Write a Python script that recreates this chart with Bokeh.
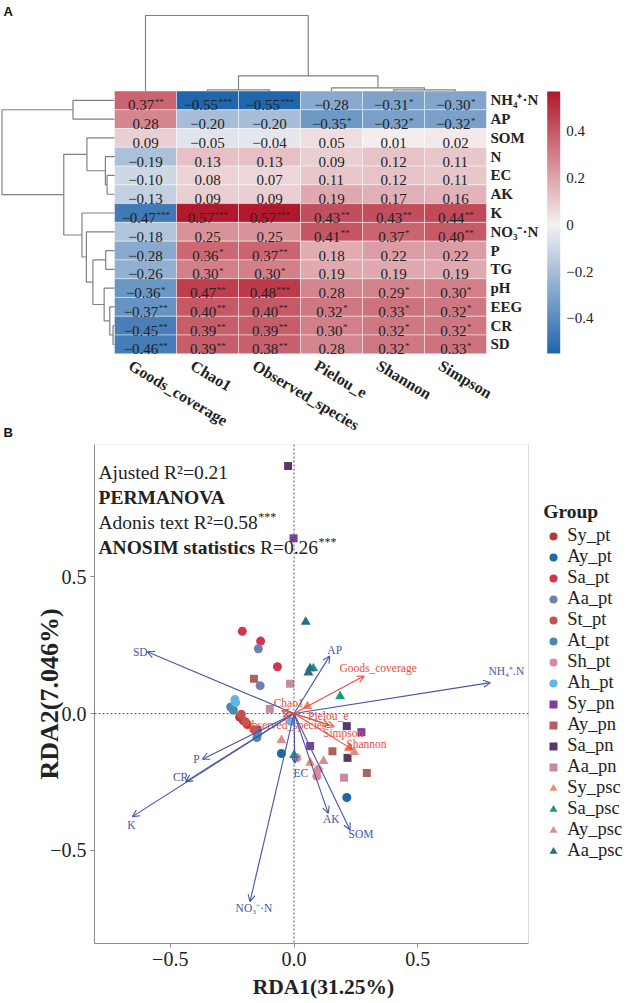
import math
from bokeh.plotting import figure
from bokeh.models import (Range1d, ColumnDataSource, ColorBar, LinearColorMapper, Legend, LegendItem,
                          FixedTicker, Span, Arrow, OpenHead, CustomJSTickFormatter, BoxAnnotation, Title)
from bokeh.embed import file_html
from bokeh.resources import INLINE
from bokeh.core.properties import value

SERIF = "Liberation Serif"
SANS = "Liberation Sans"

# ---------------- data: panel A (correlation heatmap) ----------------
alpha_cols = ["Goods_coverage", "Chao1", "Observed_species", "Pielou_e", "Shannon", "Simpson"]
env_rows = ["NH₄⁺·N", "AP", "SOM", "N", "EC", "AK", "K", "NO₃⁻·N", "P", "TG", "pH", "EEG", "CR", "SD"]

goods_coverage = [0.37, 0.28, 0.09, -0.19, -0.10, -0.13, -0.47, -0.18, -0.28, -0.26, -0.36, -0.37, -0.45, -0.46]
goods_sig      = [2, 0, 0, 0, 0, 0, 3, 0, 0, 0, 1, 2, 2, 2]
chao1          = [-0.55, -0.20, -0.05, 0.13, 0.08, 0.09, 0.57, 0.25, 0.36, 0.30, 0.47, 0.40, 0.39, 0.39]
chao1_sig      = [3, 0, 0, 0, 0, 0, 3, 0, 1, 1, 2, 2, 2, 2]
observed       = [-0.55, -0.20, -0.04, 0.13, 0.07, 0.09, 0.57, 0.25, 0.37, 0.30, 0.48, 0.40, 0.39, 0.38]
observed_sig   = [3, 0, 0, 0, 0, 0, 3, 0, 2, 1, 3, 2, 2, 2]
pielou         = [-0.28, -0.35, 0.05, 0.09, 0.11, 0.19, 0.43, 0.41, 0.18, 0.19, 0.28, 0.32, 0.30, 0.28]
pielou_sig     = [0, 1, 0, 0, 0, 0, 2, 2, 0, 0, 0, 1, 1, 0]
shannon        = [-0.31, -0.32, 0.01, 0.12, 0.12, 0.17, 0.43, 0.37, 0.22, 0.19, 0.29, 0.33, 0.32, 0.32]
shannon_sig    = [1, 1, 0, 0, 0, 0, 2, 1, 0, 0, 1, 1, 1, 1]
simpson        = [-0.30, -0.32, 0.02, 0.11, 0.11, 0.16, 0.44, 0.40, 0.22, 0.19, 0.30, 0.32, 0.32, 0.33]
simpson_sig    = [1, 1, 0, 0, 0, 0, 2, 2, 0, 0, 1, 1, 1, 1]

# hierarchical clustering (leaf a, leaf/node b, relative height)
col_linkage = [[1, 2, 0.016], [4, 5, 0.016], [3, 7, 0.042], [6, 8, 0.201], [0, 9, 1.0]]
row_linkage = [[0, 1, 0.369], [4, 5, 0.066], [3, 15, 0.081], [2, 16, 0.245],
               [8, 9, 0.078], [12, 13, 0.013], [11, 19, 0.042], [10, 20, 0.092],
               [18, 21, 0.192], [7, 22, 0.250], [6, 23, 0.289], [17, 24, 0.451], [14, 25, 1.0]]

cb_low, cb_high = -0.55, 0.57
cb_ticks = [-0.4, -0.2, 0.0, 0.2, 0.4]

# ---------------- data: panel B (RDA) ----------------
rda_x_ticks = [-0.5, 0.0, 0.5]
rda_y_ticks = [-0.5, 0.0, 0.5]

env_names = ["SD", "AP", "NH₄⁺.N", "P", "CR", "K", "EC", "AK", "SOM", "NO₃⁻·N"]
env_x = [-0.593, 0.144, 0.793, -0.370, -0.438, -0.653, 0.003, 0.138, 0.226, -0.178]
env_y = [0.226, 0.211, 0.113, -0.167, -0.249, -0.377, -0.182, -0.365, -0.426, -0.688]

div_names = ["Goods_coverage", "Chao1", "Observed_species", "Pielou_e", "Simpson", "Shannon"]
div_x = [0.283, -0.050, -0.045, 0.142, 0.162, 0.236]
div_y = [0.137, 0.010, -0.012, -0.042, -0.048, -0.131]

groups = ["Sy_pt", "Ay_pt", "Sa_pt", "Aa_pt", "St_pt", "At_pt", "Sh_pt", "Ah_pt",
          "Sy_pn", "Ay_pn", "Sa_pn", "Aa_pn", "Sy_psc", "Sa_psc", "Ay_psc", "Aa_psc"]

site_group = (["Sy_pt"] * 3 + ["Ay_pt"] * 3 + ["Sa_pt"] * 3 + ["Aa_pt"] * 3 + ["St_pt"] * 3 +
              ["At_pt"] * 3 + ["Sh_pt"] * 3 + ["Ah_pt"] * 3 + ["Sy_pn"] * 3 + ["Ay_pn"] * 3 +
              ["Sa_pn"] * 3 + ["Aa_pn"] * 3 + ["Sy_psc"] * 3 + ["Sa_psc"] * 3 + ["Ay_psc"] * 3 +
              ["Aa_psc"] * 3)
site_x = [-0.220, -0.205, -0.189,   -0.148, -0.051, 0.213,   -0.209, -0.135, -0.067,
          -0.144, -0.137, -0.148,   -0.162, -0.213, -0.196,  -0.256, -0.245, -0.150,
          0.011, 0.092, 0.098,      -0.239, -0.013, -0.236,  0.065, 0.272, -0.002,
          -0.162, 0.155, 0.294,     0.213, 0.216, -0.024,    -0.016, -0.098, 0.202,
          0.065, 0.222, 0.054,      0.078, 0.186, 0.000,     -0.051, 0.119, 0.243,
          0.047, 0.065, 0.058]
site_y = [-0.013, -0.026, -0.040,   -0.061, -0.146, -0.307,  0.301, 0.265, 0.171,
          0.237, 0.102, -0.077,     -0.059, -0.003, -0.031,  0.024, 0.012, -0.088,
          -0.162, -0.229, -0.205,   0.051, -0.028, 0.040,    -0.119, -0.068, 0.641,
          0.127, -0.138, -0.217,    -0.046, -0.162, 0.905,   0.109, 0.017, -0.235,
          -0.180, -0.126, 0.027,    0.165, 0.063, -0.152,    -0.098, -0.174, -0.141,
          0.335, 0.165, 0.150]

# ---------------- styles ----------------
group_colors = ["#B83B2E", "#1F67AD", "#D0364F", "#6E80B3", "#C25450", "#4C88B5", "#D98A96", "#62B4E4",
                "#7D3F9C", "#B0615E", "#5B3768", "#C98A9B", "#EE8B6D", "#1A9B78", "#DC8F8A", "#2A6E8C"]
group_markers = ["circle"] * 8 + ["square"] * 4 + ["triangle"] * 4
marker_sizes = {"circle": 9, "square": 8, "triangle": 10}

ENV_COLOR = "#4655A8"
DIV_COLOR = "#EE4B3E"
TXT = "#222222"
FRAME_COLOR = "#8c8c8c"

# label offsets (px, +y downward) relative to arrow heads
env_lab_off = [(-7, 0), (5, -6), (16, -12), (-6, 0), (-5, -5), (-1, 8), (6, 10), (3, 6), (11, 4), (4, 6)]
div_lab_off = [(14, -8), (7, -8), (2, 8), (-1, -9), (9, 6), (14, -5)]

# Times-like advance widths (per 1000 em) for placing superscript stars
REG_W = {'.': 250, '−': 564, '*': 500, ' ': 250, '=': 564, '²': 300, 'A': 722, 'j': 278, 'u': 500,
         's': 389, 't': 278, 'e': 444, 'd': 500, 'R': 667, 'o': 500, 'n': 500, 'i': 278, 'x': 500}
BOLD_W = {'A': 722, 'N': 722, 'O': 778, 'S': 556, 'I': 389, 'M': 944, ' ': 250, 's': 389, 't': 333,
          'a': 500, 'i': 278, 'c': 444, 'P': 611, 'E': 667, 'R': 722, 'V': 722, 'D': 722,
          '1': 500, '(': 333, ')': 333, '3': 500, '.': 250, '2': 500, '5': 500, '%': 1000}


def tw(s, size, bold=False):
    table = BOLD_W if bold else REG_W
    return sum(table.get(ch, 500) for ch in s) * size / 1000.0


def mix(c1, c2, t):
    return "#%02x%02x%02x" % tuple(int(round(a + (b - a) * t)) for a, b in zip(c1, c2))


BLUE = (33, 102, 172)
MID = (245, 241, 241)
RED = (178, 24, 43)


def corr_color(v):
    if v < 0:
        return mix(MID, BLUE, min(v / cb_low, 1.0))
    return mix(MID, RED, min(v / cb_high, 1.0))


def fmt(v):
    return ("−" if v < 0 else "") + "%.2f" % abs(v)


# ================= PANEL A =================
W = 627
HA = 438
COLW = 62.0
ROWH = 18.77
HM_LEFT = 114.0
HM_TOP = 90.5
xa0 = -HM_LEFT / COLW
ya_top = -HM_TOP / ROWH

pA = figure(width=W, height=HA, x_range=Range1d(xa0, xa0 + W / COLW),
            y_range=Range1d(ya_top + HA / ROWH, ya_top),
            output_backend="svg", toolbar_location=None, min_border=0,
            x_axis_location=None, y_axis_location=None)
pA.outline_line_color = None
pA.grid.visible = False


def ax(px):
    return xa0 + px / COLW


def ay(py):
    return ya_top + py / ROWH


col_vals = [goods_coverage, chao1, observed, pielou, shannon, simpson]
col_sigs = [goods_sig, chao1_sig, observed_sig, pielou_sig, shannon_sig, simpson_sig]

cx, cy, cc = [], [], []
nx, ny, nt = [], [], []
sx, sy, st = [], [], []
NUM_FS = 15.0
STAR_FS = 9.0
for i, (vals, sigs) in enumerate(zip(col_vals, col_sigs)):
    for j, (v, s) in enumerate(zip(vals, sigs)):
        cx.append(i + 0.5)
        cy.append(j + 0.5)
        cc.append(corr_color(v))
        label = fmt(v)
        stars = "*" * s
        wn = tw(label, NUM_FS)
        ws = tw(stars, STAR_FS)
        left = (i + 0.5) - (wn + ws) / 2.0 / COLW
        nx.append(left)
        ny.append(j + 0.5 + 5.0 / ROWH)
        nt.append(label)
        if s:
            sx.append(left + (wn + 0.5) / COLW)
            sy.append(j + 0.5 + 1.5 / ROWH)
            st.append(stars)

pA.rect(x=cx, y=cy, width=1, height=1, fill_color=cc, line_color="white",
        line_alpha=0.55, line_width=0.8)
pA.text(x=nx, y=ny, text=nt, text_font=value(SERIF), text_font_size=value("15px"),
        text_align="left", text_baseline="alphabetic", text_color=TXT)
pA.text(x=sx, y=sy, text=st, text_font=value(SERIF), text_font_size=value("9px"),
        text_align="left", text_baseline="alphabetic", text_color=TXT)

# row labels
pA.text(x=[len(alpha_cols) + 4.0 / COLW] * len(env_rows), y=[j + 0.5 for j in range(len(env_rows))],
        text=env_rows, text_font=value(SERIF), text_font_size=value("15px"),
        text_font_style=value("bold"), text_align="left", text_baseline="middle", text_color=TXT)

# column labels (rotated)
pA.text(x=[i + 0.5 - 11.0 / COLW for i in range(len(alpha_cols))],
        y=[len(env_rows) + 3.0 / ROWH] * len(alpha_cols), text=alpha_cols,
        angle=-0.54, text_font=value(SERIF), text_font_size=value("16px"),
        text_font_style=value("bold"), text_align="left", text_baseline="top", text_color=TXT)


def dendro(n_leaves, linkage):
    pos = {i: i + 0.5 for i in range(n_leaves)}
    hgt = {i: 0.0 for i in range(n_leaves)}
    segs = []
    for k, (a, b, h) in enumerate(linkage):
        node = n_leaves + k
        segs.append(([pos[a], pos[a], pos[b], pos[b]], [hgt[a], h, h, hgt[b]]))
        pos[node] = (pos[a] + pos[b]) / 2.0
        hgt[node] = h
    return segs


COL_DENDRO_PX = 75.5
ROW_DENDRO_PX = 112.5
csegs = dendro(len(alpha_cols), col_linkage)
pA.multi_line(xs=[s[0] for s in csegs],
              ys=[[-h * COL_DENDRO_PX / ROWH for h in s[1]] for s in csegs],
              line_color="#808080", line_width=1.2)
rsegs = dendro(len(env_rows), row_linkage)
pA.multi_line(xs=[[-h * ROW_DENDRO_PX / COLW for h in s[1]] for s in rsegs],
              ys=[s[0] for s in rsegs],
              line_color="#808080", line_width=1.2)

# colour bar
n_pal = 256
palette = [corr_color(cb_low + (cb_high - cb_low) * k / (n_pal - 1)) for k in range(n_pal)]
mapper = LinearColorMapper(palette=palette, low=cb_low, high=cb_high)
cb = ColorBar(color_mapper=mapper, ticker=FixedTicker(ticks=cb_ticks),
              formatter=CustomJSTickFormatter(code="return tick == 0 ? '0' : (tick < 0 ? '\u2212' : '') + Math.abs(tick).toFixed(1);"),
              location=(546.7, HA - 353), width=13, height=262, padding=0, margin=0,
              bar_line_color=None, major_tick_line_color=None, minor_tick_line_color=None,
              label_standoff=6, major_label_text_font=SERIF, major_label_text_font_size="15px",
              major_label_text_color=TXT, background_fill_color=None, border_line_color=None)
pA.add_layout(cb)

pA.text(x=[ax(3), ax(3)], y=[ay(3), ay(424)], text=["A", "B"], text_font=value(SANS),
        text_font_size=value("13px"), text_font_style=value("bold"), text_align="left",
        text_baseline="top", text_color="#111111")

# ================= PANEL B =================
HB = 1003 - HA
XMIN, XDMAX = -0.806, 0.947      # data box
YMIN, YMAX = -0.841, 0.984
BORDER_L, BORDER_T, BORDER_B = 94, 6, 60
PXX = 434.0 / (XDMAX - XMIN)
XFMAX = XMIN + (W - BORDER_L) / PXX   # frame extends under the legend
PXY = (HB - BORDER_T - BORDER_B) / (YMAX - YMIN)

pB = figure(width=W, height=HB, x_range=Range1d(XMIN, XFMAX), y_range=Range1d(YMIN, YMAX),
            output_backend="svg", toolbar_location=None,
            min_border_left=BORDER_L, min_border_right=0, min_border_top=BORDER_T,
            min_border_bottom=BORDER_B)
pB.grid.visible = False
pB.outline_line_color = None
tick_fmt = CustomJSTickFormatter(code="return (tick < 0 ? '\u2212' : '') + Math.abs(tick).toFixed(1);")
for axis, ticks in ((pB.xaxis[0], rda_x_ticks), (pB.yaxis[0], rda_y_ticks)):
    axis.ticker = FixedTicker(ticks=ticks)
    axis.formatter = tick_fmt
    axis.major_tick_in = 0
    axis.major_tick_out = 4
    axis.minor_tick_line_color = None
    axis.axis_line_color = FRAME_COLOR
    axis.major_tick_line_color = FRAME_COLOR
    axis.major_label_text_font = SERIF
    axis.major_label_text_font_size = "20px"
    axis.major_label_text_color = TXT
    axis.major_label_standoff = 4

pB.xaxis[0].bounds = (XMIN, XDMAX)
pB.yaxis[0].axis_label = "RDA2(7.046%)"
pB.yaxis[0].axis_label_text_font = SERIF
pB.yaxis[0].axis_label_text_font_style = "bold"
pB.yaxis[0].axis_label_text_color = TXT
pB.yaxis[0].axis_label_text_font_size = "26px"
pB.yaxis[0].axis_label_standoff = -17

# x-axis title, centred under the plotting box rather than the widened frame
xtitle = "RDA1(31.25%)"
XT_FS = 21.5
xt_left = 217.0 + 12.0 - tw(xtitle, XT_FS, bold=True) / 2.0
pB.add_layout(Title(text=xtitle, align="left", offset=xt_left, standoff=8,
                    text_font=SERIF, text_font_size="21.5px", text_font_style="bold",
                    text_color=TXT), "below")

pB.add_layout(BoxAnnotation(left=XMIN, right=XDMAX, bottom=YMIN, top=YMAX, fill_alpha=0,
                            line_color=FRAME_COLOR, line_width=1))
pB.add_layout(Span(location=0, dimension="height", line_color="#555555", line_dash="2 2", line_width=1))
pB.segment(x0=[XMIN], y0=[0], x1=[XDMAX], y1=[0], line_color="#555555", line_dash="2 2", line_width=1)

# arrows
env_src = ColumnDataSource(dict(x0=[0] * len(env_x), y0=[0] * len(env_y), x1=env_x, y1=env_y))
pB.add_layout(Arrow(x_start="x0", y_start="y0", x_end="x1", y_end="y1", source=env_src,
                    line_color=ENV_COLOR, line_width=1.1,
                    end=OpenHead(size=7, line_color=ENV_COLOR, line_width=1.1)))
div_src = ColumnDataSource(dict(x0=[0] * len(div_x), y0=[0] * len(div_y), x1=div_x, y1=div_y))
pB.add_layout(Arrow(x_start="x0", y_start="y0", x_end="x1", y_end="y1", source=div_src,
                    line_color=DIV_COLOR, line_width=1.1,
                    end=OpenHead(size=7, line_color=DIV_COLOR, line_width=1.1)))

# sites
items = []
for g, col, mk in zip(groups, group_colors, group_markers):
    xs = [x for x, gg in zip(site_x, site_group) if gg == g]
    ys = [y for y, gg in zip(site_y, site_group) if gg == g]
    r = pB.scatter(x=xs, y=ys, marker=mk, size=marker_sizes[mk], fill_color=col, line_color=None)
    items.append(LegendItem(label=g, renderers=[r]))

# arrow labels
pB.text(x=[x + o[0] / PXX for x, o in zip(env_x, env_lab_off)],
        y=[y - o[1] / PXY for y, o in zip(env_y, env_lab_off)],
        text=env_names, text_font=value(SERIF), text_font_size=value("11.5px"),
        text_align="center", text_baseline="middle", text_color=ENV_COLOR)
pB.text(x=[x + o[0] / PXX for x, o in zip(div_x, div_lab_off)],
        y=[y - o[1] / PXY for y, o in zip(div_y, div_lab_off)],
        text=div_names, text_font=value(SERIF), text_font_size=value("11.5px"),
        text_align="center", text_baseline="middle", text_color=DIV_COLOR)


def bx(px):
    return XMIN + px / PXX


def by(py):
    return YMAX - py / PXY


FS = 19.5
lines_y = [27.7, 52.7, 77.7, 102.7]
left_px = 4.0
pB.text(x=[bx(left_px)], y=[by(lines_y[0])], text=["Ajusted R²=0.21"], text_font=value(SERIF),
        text_font_size=value("19.5px"), text_align="left", text_baseline="alphabetic", text_color=TXT)
pB.text(x=[bx(left_px)], y=[by(lines_y[1])], text=["PERMANOVA"], text_font=value(SERIF),
        text_font_size=value("19.5px"), text_font_style=value("bold"), text_align="left",
        text_baseline="alphabetic", text_color=TXT)
adonis = "Adonis text R²=0.58"
pB.text(x=[bx(left_px)], y=[by(lines_y[2])], text=[adonis], text_font=value(SERIF),
        text_font_size=value("19.5px"), text_align="left", text_baseline="alphabetic", text_color=TXT)
anosim_b = "ANOSIM statistics"
anosim_r = "R=0.26"
pB.text(x=[bx(left_px)], y=[by(lines_y[3])], text=[anosim_b], text_font=value(SERIF),
        text_font_size=value("19.5px"), text_font_style=value("bold"), text_align="left",
        text_baseline="alphabetic", text_color=TXT)
x_r = left_px + tw(anosim_b, FS, bold=True) + tw(" ", FS)
pB.text(x=[bx(x_r)], y=[by(lines_y[3])], text=[anosim_r], text_font=value(SERIF),
        text_font_size=value("19.5px"), text_align="left", text_baseline="alphabetic", text_color=TXT)
pB.text(x=[bx(left_px + tw(adonis, FS) + 0.5), bx(x_r + tw(anosim_r, FS) + 0.5)],
        y=[by(lines_y[2] - 5), by(lines_y[3] - 5)], text=["***", "***"], text_font=value(SERIF),
        text_font_size=value("12px"), text_align="left", text_baseline="alphabetic", text_color=TXT)

# legend (inside the widened frame, right of the box)
leg = Legend(items=items, location=(449.3, 82), title="Group",
             title_text_font=SERIF, title_text_font_size="19.5px", title_text_font_style="bold",
             title_text_color=TXT, title_standoff=2,
             label_text_font=SERIF, label_text_font_size="18.5px", label_text_color=TXT,
             label_text_line_height=1.0,
             label_standoff=4, glyph_width=20, glyph_height=20, label_height=20,
             spacing=0, padding=0, margin=0, border_line_color=None, background_fill_alpha=0)
pB.add_layout(leg)

open("out.html", "w").write(file_html([pA, pB], INLINE))
